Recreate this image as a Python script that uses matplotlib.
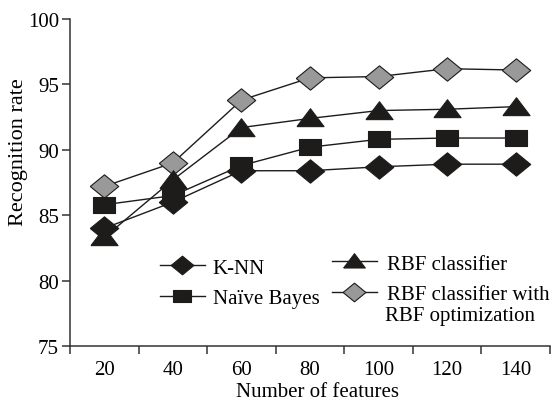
import numpy as np
import matplotlib
matplotlib.use("Agg")
import matplotlib.pyplot as plt

plt.rcParams['font.family'] = ['Liberation Serif', 'DejaVu Serif']

#%% Data:
features = [20, 40, 60, 80, 100, 120, 140]
knn = [84.0, 86.0, 88.4, 88.4, 88.7, 88.9, 88.9]
naive_bayes = [85.8, 86.5, 88.8, 90.2, 90.8, 90.9, 90.9]
rbf = [83.3, 87.7, 91.7, 92.4, 93.0, 93.1, 93.3]
rbf_opt = [87.2, 89.0, 93.8, 95.5, 95.6, 96.2, 96.1]

yticks = [75, 80, 85, 90, 95, 100]

#%% Markers (Excel-like, a bit stretched horizontally):
diamond = [(-1, 0), (0, 0.82), (1, 0), (0, -0.82), (-1, 0)]
square = [(-1, -0.68), (1, -0.68), (1, 0.68), (-1, 0.68), (-1, -0.68)]
triangle = [(-1, -0.6), (0, 0.72), (1, -0.6), (-1, -0.6)]

DARK = '#1e1b1b'
GREY = '#999999'
FS = 15
W, H = 554, 402

fig = plt.figure(figsize=(W/100, H/100), dpi=100)
ax = fig.add_axes([70/W, 55/H, 480/W, 327/H])

x = np.arange(len(features))
common = dict(color=DARK, lw=1.0, mec=DARK, mew=0.8)
l_opt, = ax.plot(x, rbf_opt, marker=diamond, ms=20.5, mfc=GREY, **common)
l_knn, = ax.plot(x, knn, marker=diamond, ms=20.5, mfc=DARK, **common)
l_rbf, = ax.plot(x, rbf, marker=triangle, ms=19.5, mfc=DARK, **common)
l_nb, = ax.plot(x, naive_bayes, marker=square, ms=16.5, mfc=DARK, **common)

# Axes cosmetics:
ax.set_xlim(-0.5, len(features) - 0.5)
ax.set_ylim(75, 100)
ax.set_yticks(yticks)
ax.set_xticks(x)
ax.set_xticklabels([str(f) for f in features])
ax.set_xticks(np.arange(len(features) + 1) - 0.5, minor=True)
ax.tick_params(axis='x', which='major', length=0, pad=10, labelsize=FS)
ax.tick_params(axis='x', which='minor', length=6, width=1.1, direction='out', color='#333333')
ax.tick_params(axis='y', length=6, width=1.1, direction='out', color='#333333', labelsize=FS, pad=2)
for s in ['top', 'right']:
    ax.spines[s].set_visible(False)
for s in ['left', 'bottom']:
    ax.spines[s].set_linewidth(1.1)
    ax.spines[s].set_color('#333333')

ax.set_xlabel("Number of features", fontsize=FS)
ax.set_ylabel("Recognition rate", fontsize=16)
ax.xaxis.set_label_coords(317/W, 1 - 393/H, transform=fig.transFigure)
ax.yaxis.set_label_coords(19/W, 1 - 152/H, transform=fig.transFigure)
ax.xaxis.label.set_va('center')
ax.yaxis.label.set_va('center')

# Legends (two columns, drawn separately so rows line up like the original):
leg_kw = dict(frameon=False, fontsize=FS, loc='upper left', bbox_transform=fig.transFigure,
              borderpad=0, borderaxespad=0, handlelength=2.15, labelspacing=0.52,
              markerscale=0.8)
leg1 = ax.legend([l_knn, l_nb], ["K-NN", "Naïve Bayes"],
                 bbox_to_anchor=(160/W, 1 - 259/H), handletextpad=0.38, **leg_kw)
ax.add_artist(leg1)
leg2 = ax.legend([l_rbf, l_opt], ["RBF classifier", "RBF classifier with"],
                 bbox_to_anchor=(332/W, 1 - 255/H), handletextpad=0.48, **leg_kw)
fig.text(385/W, 1 - 317/H, "RBF optimization", fontsize=FS, va='center', ha='left')

plt.savefig("out.png", dpi=100)
